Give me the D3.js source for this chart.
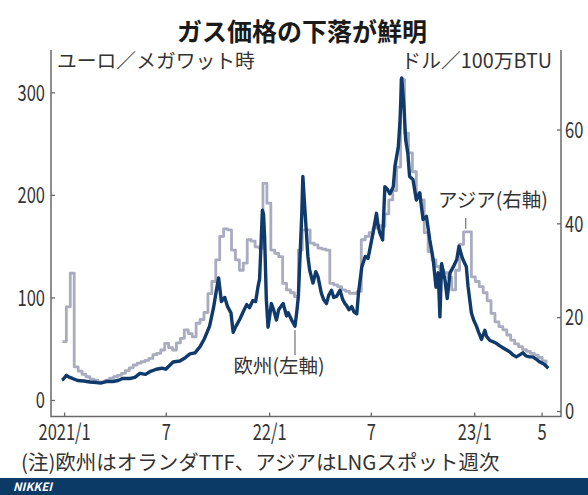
<!DOCTYPE html>
<html><head><meta charset="utf-8">
<script src="https://cdn.jsdelivr.net/npm/d3@7"></script>
<style>
html,body{margin:0;padding:0;background:#fff;}
svg{display:block;}
text{font-family:"Noto Sans CJK JP","Noto Sans",sans-serif;}
</style></head><body>
<svg id="chart" width="588" height="495"></svg>
<script>
// ---- data ----
const euDates = ["2020-12-28","2020-12-30","2021-01-05","2021-01-11","2021-01-16","2021-01-25","2021-02-05","2021-02-16","2021-02-28","2021-03-07",
"2021-03-17","2021-03-29","2021-04-07","2021-04-15","2021-04-28","2021-05-07","2021-05-16","2021-05-26","2021-06-04","2021-06-14",
"2021-06-24","2021-07-01","2021-07-14","2021-07-26","2021-08-04","2021-08-13","2021-08-22","2021-08-31","2021-09-08","2021-09-17",
"2021-09-24","2021-09-30","2021-10-03","2021-10-08","2021-10-14","2021-10-19","2021-10-25","2021-10-29","2021-11-03","2021-11-10",
"2021-11-15","2021-11-22","2021-11-27","2021-12-03","2021-12-08","2021-12-12","2021-12-15","2021-12-20","2021-12-22","2021-12-24",
"2021-12-27","2021-12-30","2022-01-02","2022-01-05","2022-01-09","2022-01-14","2022-01-18","2022-01-23","2022-01-26","2022-02-01",
"2022-02-04","2022-02-10","2022-02-16","2022-02-19","2022-02-22","2022-02-25","2022-02-28","2022-03-02","2022-03-04","2022-03-08",
"2022-03-11","2022-03-14","2022-03-20","2022-03-25","2022-03-29","2022-04-04","2022-04-08","2022-04-13","2022-04-17","2022-04-22",
"2022-04-26","2022-05-01","2022-05-07","2022-05-12","2022-05-16","2022-05-19","2022-05-23","2022-05-28","2022-06-01","2022-06-06",
"2022-06-09","2022-06-15","2022-06-21","2022-06-26","2022-06-30","2022-07-05","2022-07-11","2022-07-14","2022-07-17","2022-07-22",
"2022-07-26","2022-07-31","2022-08-04","2022-08-10","2022-08-13","2022-08-19","2022-08-22","2022-08-25","2022-08-27","2022-08-29",
"2022-09-01","2022-09-05","2022-09-08","2022-09-14","2022-09-20","2022-09-26","2022-10-02","2022-10-08","2022-10-14","2022-10-20",
"2022-10-25","2022-10-29","2022-11-01","2022-11-04","2022-11-10","2022-11-14","2022-11-19","2022-11-25","2022-12-01","2022-12-05",
"2022-12-10","2022-12-12","2022-12-18","2022-12-21","2022-12-27","2022-12-31","2023-01-05","2023-01-09","2023-01-14","2023-01-20",
"2023-01-23","2023-01-29","2023-02-03","2023-02-10","2023-02-15","2023-02-21","2023-02-27","2023-03-05","2023-03-11","2023-03-17",
"2023-03-23","2023-03-29","2023-04-03","2023-04-10","2023-04-15","2023-04-21","2023-04-28","2023-05-05","2023-05-13"];
const euValues = [19.5,20,24,22,21,19,18.5,17.5,17,16.5,
18,18,19,21,21,22,26,25,28,30,
31,30,37,38,41,45,46,52,60,72,
90,110,119,96,100,91,85,66,72,79,
85,93,90,97,96,110,118,185,181,158,
98,71,82,94,88,78,88,92,94,82,
85,78,72,85,101,140,180,218,200,166,
140,127,114,125,120,104,98,94,102,107,
100,101,107,98,94,92,88,91,86,84,
104,130,140,138,149,163,182,170,163,156,
208,205,201,208,228,247,273,314,300,286,
254,240,218,215,195,202,176,179,156,137,
110,124,81,133,117,99,124,130,137,150,
140,137,130,111,85,78,72,66,59,68,
62,58,57,55,53,51,49,47,44,42,
44,46,43,42,42,40,37,35,31];

const asiaDates = ["2020-12-29","2021-01-05","2021-01-12","2021-01-19","2021-01-26","2021-02-02","2021-02-09","2021-02-16","2021-02-23","2021-03-02",
"2021-03-09","2021-03-16","2021-03-23","2021-03-30","2021-04-06","2021-04-13","2021-04-20","2021-04-27","2021-05-04","2021-05-11",
"2021-05-18","2021-05-25","2021-06-01","2021-06-08","2021-06-15","2021-06-22","2021-06-29","2021-07-06","2021-07-13","2021-07-20",
"2021-07-27","2021-08-03","2021-08-10","2021-08-17","2021-08-24","2021-08-31","2021-09-07","2021-09-14","2021-09-21","2021-09-28",
"2021-10-05","2021-10-12","2021-10-19","2021-10-26","2021-11-02","2021-11-09","2021-11-16","2021-11-23","2021-11-30","2021-12-07",
"2021-12-14","2021-12-21","2021-12-28","2022-01-04","2022-01-11","2022-01-18","2022-01-25","2022-02-01","2022-02-08","2022-02-15",
"2022-02-22","2022-03-01","2022-03-08","2022-03-15","2022-03-22","2022-03-29","2022-04-05","2022-04-12","2022-04-19","2022-04-26",
"2022-05-03","2022-05-10","2022-05-17","2022-05-24","2022-05-31","2022-06-07","2022-06-14","2022-06-21","2022-06-28","2022-07-05",
"2022-07-12","2022-07-19","2022-07-26","2022-08-02","2022-08-09","2022-08-16","2022-08-23","2022-08-30","2022-09-06","2022-09-13",
"2022-09-20","2022-09-27","2022-10-04","2022-10-11","2022-10-18","2022-10-25","2022-11-01","2022-11-08","2022-11-15","2022-11-22",
"2022-11-29","2022-12-06","2022-12-13","2022-12-20","2022-12-27","2023-01-03","2023-01-10","2023-01-17","2023-01-24","2023-01-31",
"2023-02-07","2023-02-14","2023-02-21","2023-02-28","2023-03-07","2023-03-14","2023-03-21","2023-03-28","2023-04-04","2023-04-11",
"2023-04-18","2023-04-25","2023-05-02","2023-05-09"];
const asiaValues = [14.8,22.2,29.4,9.4,8.5,7.8,7.3,6.8,6.6,6.2,
6.2,6.6,7.0,7.3,7.6,8.0,8.6,9.2,9.8,10.2,
10.5,10.8,11.2,12.0,12.3,13.0,14.4,13.5,13.0,14.5,
15.5,17.3,16.5,15.8,18.7,19.5,21,25,27.6,32.2,
37.2,38.8,38.6,34.3,32.2,30,31.5,36.5,36.2,35,
34.7,48.5,44.3,34.3,33.6,32.9,27.2,25.8,25.2,24.4,
34.3,38.6,38.6,35.8,35.4,34.7,34.5,34.3,27.2,26.9,
26.5,25.8,25.5,25.1,25.1,25.5,36.5,37.2,38,39,
39.5,39.3,42,45,47,52,70.6,59.2,55,51,
46.4,45,38,34,32.2,30.8,30,29.5,28.5,25.8,
30,35.5,38.2,38.2,28.6,27.6,26.5,25.2,23.5,20.8,
19,18,17.3,16.2,15.1,14.3,13.7,13.1,12.7,12.3,
11.9,11.4,10.7,9.8];

const leftTicks = [0,100,200,300];
const rightTicks = [0,20,40,60];
const xTickDates = ["2021-01-01","2021-07-01","2022-01-01","2022-07-01","2023-01-01","2023-05-01"];
const xTickLabels = ["2021/1","7","22/1","7","23/1","5"];
const titleText = "ガス価格の下落が鮮明";
const leftUnit = "ユーロ／メガワット時";
const rightUnit = "ドル／100万BTU";
const euLabel = "欧州(左軸)";
const asiaLabel = "アジア(右軸)";
const noteText = "(注)欧州はオランダTTF、アジアはLNGスポット週次";
const sourceText = "NIKKEI";

// ---- drawing ----
const parse = d3.timeParse("%Y-%m-%d");
const svg = d3.select("#chart");
const frame = {left:51, right:561, top:50, bottom:416.5};
const x = d3.scaleTime().domain([parse("2021-01-01"), parse("2023-05-01")]).range([64.1, 541.6]);
const yL = d3.scaleLinear().domain([0,300]).range([400,92.3]);
const yR = d3.scaleLinear().domain([0,60]).range([411,129.5]);
const SX = 0.75;
const axisColor = "#6a6a6a";
const textColor = "#333";
const tickFont = 'Roboto,"Liberation Sans",sans-serif';

// title
svg.append("text").attr("x",302).attr("y",41).attr("text-anchor","middle")
  .attr("font-size",25).attr("font-weight","bold").attr("fill","#1a1a1a").text(titleText);

// unit labels
svg.append("text").attr("x",57).attr("y",68).attr("font-size",19.8).attr("fill",textColor).text(leftUnit);
svg.append("text").attr("x",552).attr("y",68).attr("text-anchor","end").attr("font-size",19.8).attr("fill",textColor).text(rightUnit);

function condense(g){
  g.selectAll(".tick text").each(function(){
    const t = d3.select(this);
    const xx = +t.attr("x") || 0;
    t.attr("x", xx / SX).attr("transform", `scale(${SX},1)`);
  });
}
function styleAxis(g){
  g.select(".domain").remove();
  g.selectAll(".tick line").attr("stroke",axisColor).attr("stroke-width",1.3);
  g.selectAll(".tick text").attr("fill",textColor).attr("font-size",22)
    .attr("font-family",tickFont);
}

// left axis
svg.append("g").attr("transform",`translate(${frame.left},0)`)
  .call(d3.axisLeft(yL).tickValues(leftTicks).tickSizeInner(-4).tickSizeOuter(0).tickPadding(6))
  .call(styleAxis)
  .call(g=>g.selectAll(".tick text").attr("dy","0.35em"))
  .call(condense);

// right axis
svg.append("g").attr("transform",`translate(${frame.right},0)`)
  .call(d3.axisRight(yR).tickValues(rightTicks).tickSizeInner(-4).tickSizeOuter(0).tickPadding(4))
  .call(styleAxis)
  .call(g=>g.selectAll(".tick text").attr("dy","0.35em"))
  .call(condense);

// bottom axis
svg.append("g").attr("transform",`translate(0,${frame.bottom})`)
  .call(d3.axisBottom(x).tickValues(xTickDates.map(parse)).tickFormat((d,i)=>xTickLabels[i])
        .tickSizeInner(-4).tickSizeOuter(0))
  .call(styleAxis)
  .call(g=>g.selectAll(".tick text").attr("y",23.5).attr("dy",0))
  .call(condense);

// frame
svg.append("path")
  .attr("d",`M${frame.left},${frame.top}V${frame.bottom}H${frame.right}V${frame.top}`)
  .attr("fill","none").attr("stroke",axisColor).attr("stroke-width",1.5);

// lines
const asia = asiaDates.map((d,i)=>({date:parse(d), v:asiaValues[i]}));
const eu = euDates.map((d,i)=>({date:parse(d), v:euValues[i]}));

svg.append("path").datum(asia)
  .attr("d", d3.line().x(d=>x(d.date)).y(d=>yR(d.v)).curve(d3.curveStepAfter))
  .attr("fill","none").attr("stroke","#a9abbe").attr("stroke-width",2.8).attr("stroke-linejoin","round");

svg.append("path").datum(eu)
  .attr("d", d3.line().x(d=>x(d.date)).y(d=>yL(d.v)))
  .attr("fill","none").attr("stroke","#0f3a6b").attr("stroke-width",3.4).attr("stroke-linejoin","round");

// annotations
const euLeaderDate = parse("2022-02-16");
svg.append("line").attr("x1",x(euLeaderDate)).attr("x2",x(euLeaderDate))
  .attr("y1",yL(72)+4).attr("y2",355).attr("stroke","#555").attr("stroke-width",1);
svg.append("text").attr("x",x(euLeaderDate)-16).attr("y",373).attr("text-anchor","middle")
  .attr("font-size",19.5).attr("fill",textColor).text(euLabel);

const asiaLeaderDate = parse("2022-12-17");
svg.append("line").attr("x1",x(asiaLeaderDate)).attr("x2",x(asiaLeaderDate))
  .attr("y1",218).attr("y2",yR(38.2)-3).attr("stroke","#555").attr("stroke-width",1);
svg.append("text").attr("x",493).attr("y",207).attr("text-anchor","middle")
  .attr("font-size",19.5).attr("fill",textColor).text(asiaLabel);

// note
svg.append("text").attr("x",21).attr("y",469.5).attr("font-size",20.5).attr("fill",textColor).text(noteText);

// footer
svg.append("rect").attr("x",0).attr("y",478).attr("width",588).attr("height",17).attr("fill","#0c3a66");
svg.append("text").attr("x",13).attr("y",490.5).attr("font-size",11.5).attr("font-weight","bold")
  .attr("font-style","italic").attr("fill","#fff").attr("font-family",'"Liberation Sans",Arial,sans-serif').text(sourceText);
</script>
</body></html>
